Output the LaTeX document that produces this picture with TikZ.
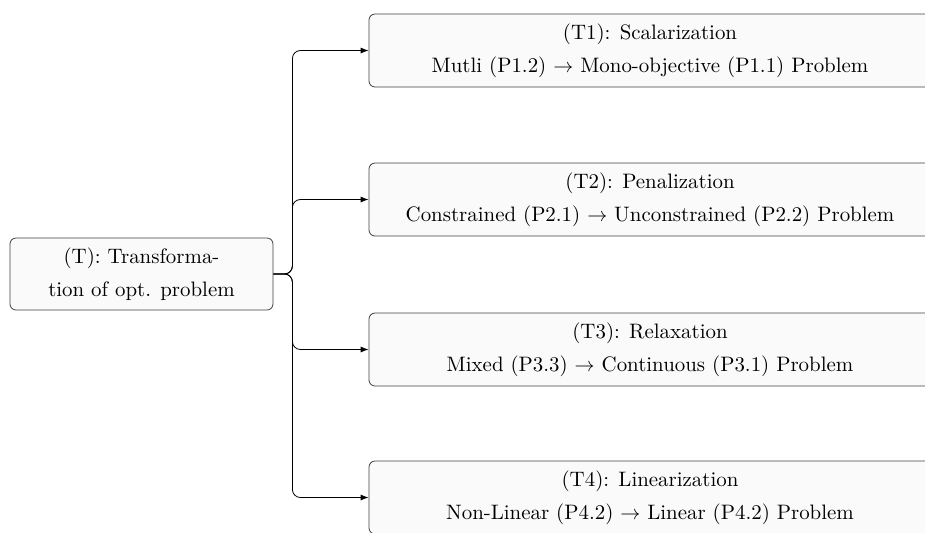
\documentclass[tikz,border=0pt]{standalone}
\usetikzlibrary{arrows.meta}
\begin{document}
\begin{tikzpicture}[x=1pt,y=1pt,
  box/.style={draw=black!75, fill=black!2, rounded corners=3pt, align=center,
    font=\fontsize{10.45}{16.5}\selectfont},
  mainbox/.style={box, minimum width=131.5pt, minimum height=36pt},
  techbox/.style={box, minimum width=281pt, minimum height=36.5pt},
  link/.style={-{Latex[length=4pt,width=3pt]}, rounded corners=4pt}]
\clip (0,0) rectangle (462.5,-266);
\node [mainbox] (T) at (70.75,-137) {(T): Transforma-\\tion of opt. problem};
\node [techbox] (T1) at (325,-25.25) {(T1): Scalarization\\Mutli (P1.2) $\rightarrow$ Mono-objective (P1.1) Problem};
\node [techbox] (T2) at (325,-99.75) {(T2): Penalization\\Constrained (P2.1) $\rightarrow$ Unconstrained (P2.2) Problem};
\node [techbox] (T3) at (325,-174.75) {(T3): Relaxation\\Mixed (P3.3) $\rightarrow$ Continuous (P3.1) Problem};
\node [techbox] (T4) at (325,-248.75) {(T4): Linearization\\Non-Linear (P4.2) $\rightarrow$ Linear (P4.2) Problem};
\draw [link] (T.east) -- ++(9.5,0) |- (T1.west);
\draw [link] (T.east) -- ++(9.5,0) |- (T2.west);
\draw [link] (T.east) -- ++(9.5,0) |- (T3.west);
\draw [link] (T.east) -- ++(9.5,0) |- (T4.west);
\end{tikzpicture}
\end{document}
